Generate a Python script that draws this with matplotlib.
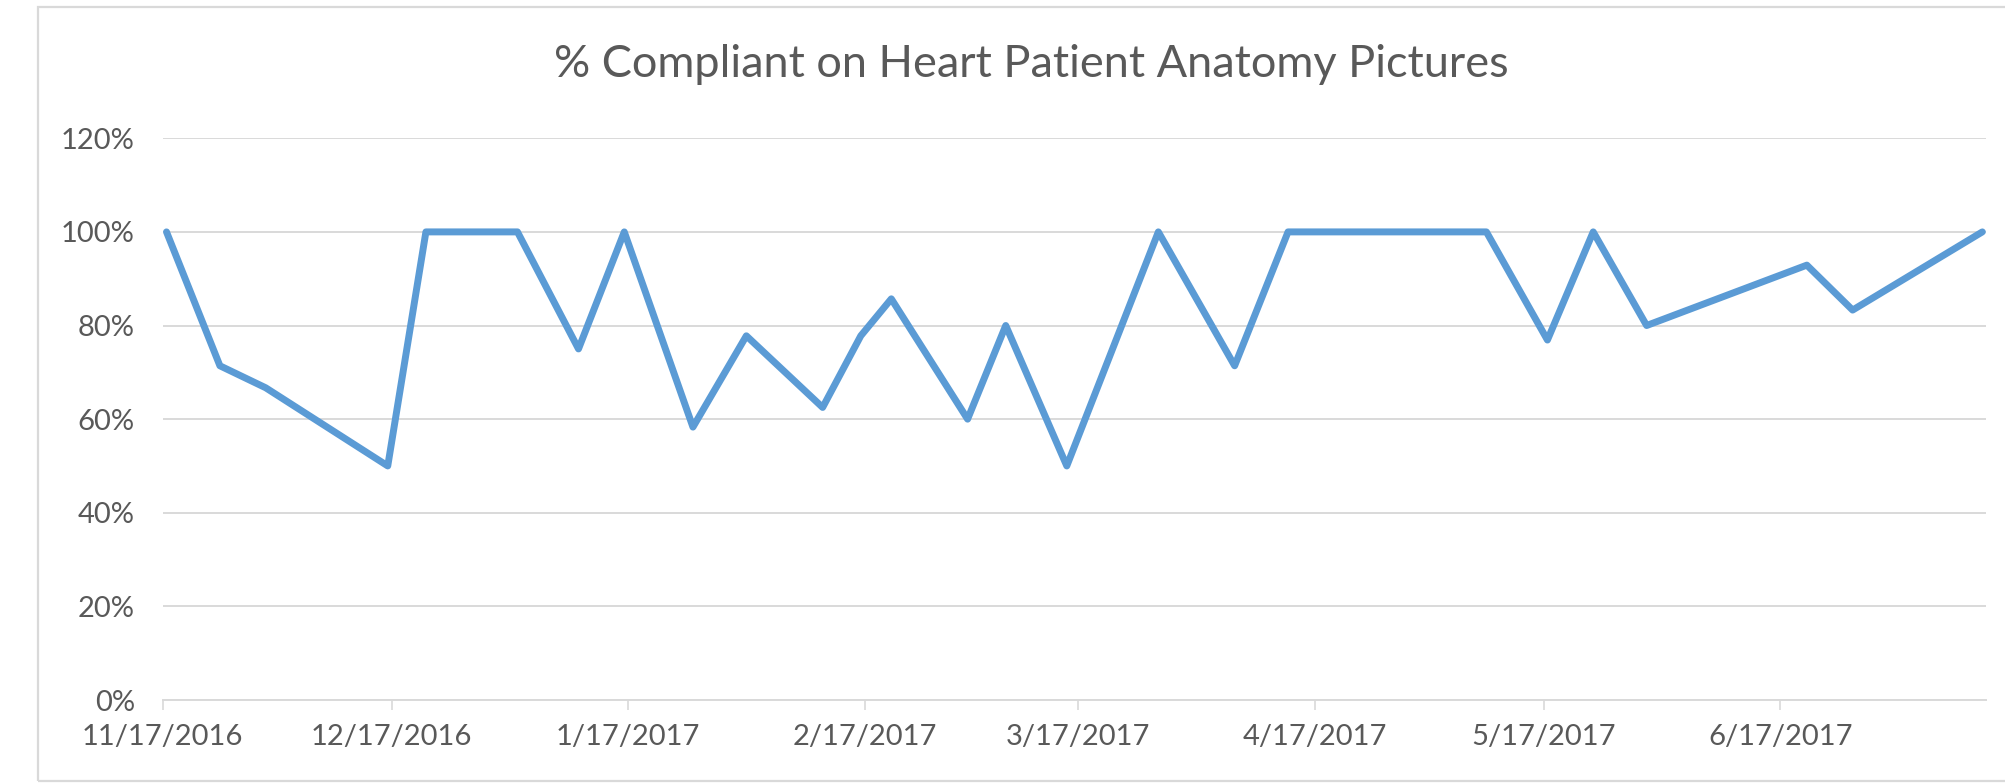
import pandas as pd
import matplotlib
matplotlib.use("Agg")
import matplotlib.pyplot as plt
import matplotlib.dates as mdates
from matplotlib.ticker import PercentFormatter
from matplotlib.patches import Rectangle

# data
dates = ["2016-11-17", "2016-11-24", "2016-11-30", "2016-12-16", "2016-12-21",
         "2017-01-02", "2017-01-10", "2017-01-16", "2017-01-25", "2017-02-01",
         "2017-02-11", "2017-02-16", "2017-02-20", "2017-03-02", "2017-03-07",
         "2017-03-15", "2017-03-27", "2017-04-06", "2017-04-13", "2017-05-09",
         "2017-05-17", "2017-05-23", "2017-05-30", "2017-06-20", "2017-06-26",
         "2017-07-13"]
compliant = [100, 71.4, 66.7, 50, 100,
             100, 75, 100, 58.3, 77.8,
             62.5, 77.8, 85.7, 60, 80,
             50, 100, 71.4, 100, 100,
             76.9, 100, 80, 92.9, 83.3,
             100]
tick_dates = ["2016-11-17", "2016-12-17", "2017-01-17", "2017-02-17",
              "2017-03-17", "2017-04-17", "2017-05-17", "2017-06-17"]
title = "% Compliant on Heart Patient Anatomy Pictures"

plt.rcParams['font.family'] = ['Lato', 'DejaVu Sans']
grey_txt = "#595959"
grey_line = "#D9D9D9"
blue = "#5B9BD5"

x = pd.to_datetime(dates)
# excel date axis puts each point in the middle of its day slot
x_mid = x + pd.Timedelta(hours=12)

fig = plt.figure(figsize=(20.06, 7.83), dpi=100)
ax = fig.add_axes([0.0811, 0.106, 0.909, 0.7174])

ax.plot(x_mid, compliant, color=blue, lw=5, solid_joinstyle="round",
        solid_capstyle="round", zorder=3)

ax.set_ylim(0, 120)
ax.set_yticks(range(0, 121, 20))
ax.yaxis.set_major_formatter(PercentFormatter(decimals=0))
ax.set_xlim(pd.Timestamp("2016-11-17"), pd.Timestamp("2017-07-14"))
ax.set_xticks(pd.to_datetime(tick_dates))
ax.xaxis.set_major_formatter(mdates.DateFormatter("%-m/%-d/%Y"))

ax.grid(axis="y", color=grey_line, lw=1.4)
ax.set_axisbelow(True)
for s in ["top", "right", "left"]:
    ax.spines[s].set_visible(False)
ax.spines["bottom"].set_color(grey_line)
ax.spines["bottom"].set_linewidth(1.4)

ax.tick_params(axis="y", length=0, pad=20, labelsize=21, labelcolor=grey_txt)
ax.tick_params(axis="x", length=7, width=1.2, color=grey_line, pad=10,
               labelsize=21, labelcolor=grey_txt)

fig.text(0.514, 0.918, title, ha="center", va="center", fontsize=32.5,
         color=grey_txt)

# chart area border
fig.patches.append(Rectangle((0.019, 0.002), 1.2, 0.989, transform=fig.transFigure,
                             fill=False, edgecolor=grey_line, lw=1.6))

fig.savefig("out.png", dpi=100, facecolor="white")
